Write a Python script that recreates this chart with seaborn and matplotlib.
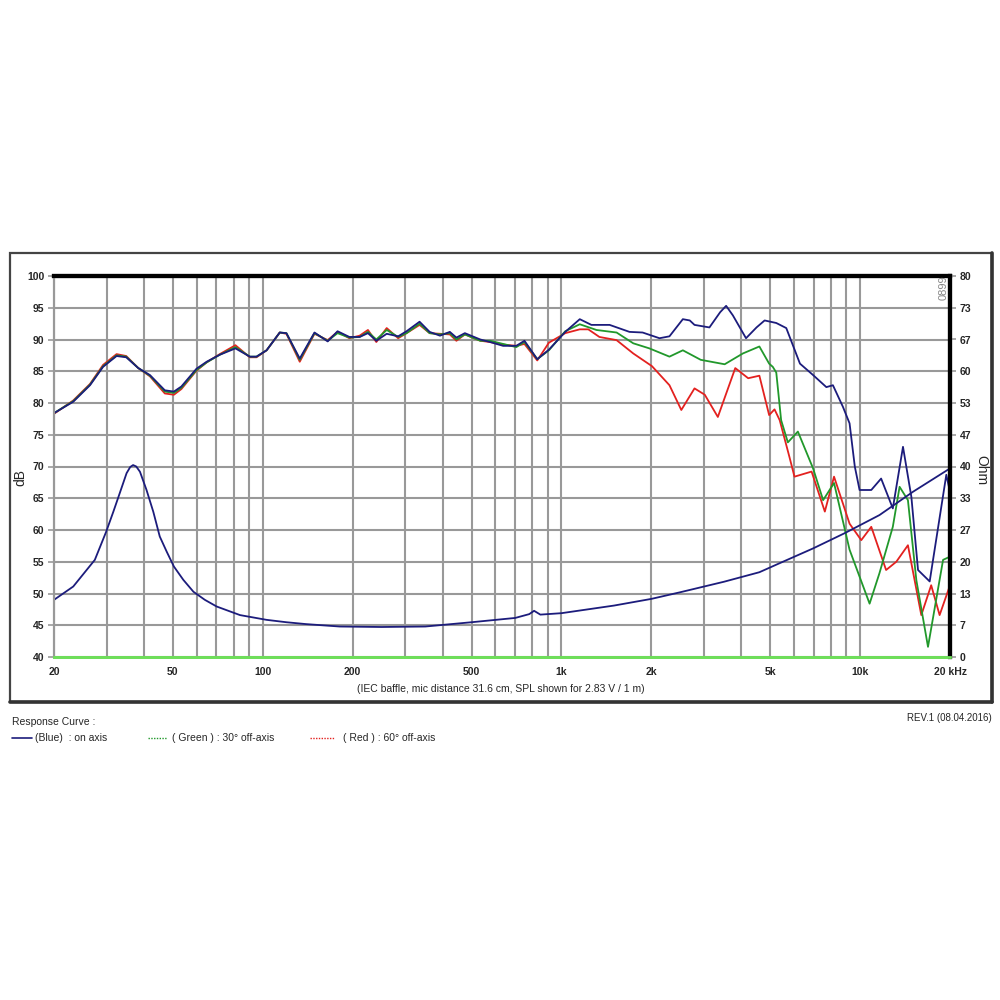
import matplotlib
matplotlib.use("Agg")
import matplotlib.pyplot as plt
import seaborn as sns
from matplotlib.lines import Line2D
from matplotlib.patches import Rectangle

# SPL, on axis (blue)
blue_f = [20, 23.2, 26.4, 29.2, 32.4, 34.9, 38.3, 41.9, 47, 50.4, 53.4, 60, 64.9, 71.8, 81, 90.5, 95.3,
          103, 114, 120, 133, 149, 165, 178, 195, 211, 225, 240, 260, 284, 303, 335, 362, 392, 423, 445,
          475, 535, 577, 638, 706, 752, 830, 908, 1030, 1152, 1260, 1450, 1690, 1870, 2130, 2300,
          2550, 2690, 2790, 3130, 3400, 3560, 3750, 4150, 4500, 4790, 5240, 5660, 6290, 6960, 7710, 8110,
          8760, 9220, 9600, 9960, 10900, 11760, 12870, 13920, 14850, 15630, 17100, 19440, 20000]
blue_db = [78.4, 80.2, 82.8, 85.7, 87.4, 87.2, 85.5, 84.4, 82.0, 81.8, 82.6, 85.4, 86.5, 87.6, 88.6, 87.3, 87.3,
           88.3, 91.1, 91.0, 87.0, 91.1, 89.7, 91.3, 90.4, 90.4, 91.0, 89.8, 90.9, 90.5, 91.3, 92.8, 91.2,
           90.6, 91.2, 90.3, 91.0, 90.0, 89.6, 89.0, 89.0, 89.8, 86.9, 88.4, 91.2, 93.2, 92.3, 92.3, 91.2,
           91.1, 90.2, 90.5, 93.2, 93.0, 92.3, 91.9, 94.3, 95.3, 93.8, 90.2, 91.9, 93.0, 92.6, 91.8,
           86.2, 84.4, 82.5, 82.8, 79.4, 76.8, 70.0, 66.3, 66.3, 68.1, 63.4, 73.1, 65.2, 53.7, 51.9, 68.7,
           66.0]

# SPL, 30 deg off axis (green)
green_f = [20, 23.2, 26.4, 29.2, 32.4, 34.9, 38.3, 41.9, 47, 50.4, 53.4, 60, 64.9, 71.8, 81, 90.5, 95.3,
           103, 114, 120, 133, 149, 165, 178, 195, 211, 225, 240, 260, 284, 303, 335, 362, 392, 423, 445,
           475, 535, 577, 638, 706, 752, 830, 908, 1030, 1152, 1310, 1530, 1740, 1970, 2300, 2550, 2927,
           3520, 4050, 4600, 4960, 5100, 5240, 5440, 5730, 6190, 6960, 7520, 8180, 9220, 10760, 11610,
           12870, 13560, 14460, 15430, 16880, 18960, 20000]
green_db = [78.4, 80.3, 82.9, 85.8, 87.5, 87.3, 85.5, 84.3, 81.8, 81.6, 82.4, 85.2, 86.4, 87.6, 88.8, 87.3, 87.3,
            88.3, 91.1, 91.0, 86.8, 91.0, 89.8, 91.0, 90.3, 90.4, 91.2, 90.0, 91.5, 90.4, 91.0, 92.5, 91.0,
            90.8, 91.0, 90.0, 90.8, 89.8, 89.8, 89.3, 88.8, 89.6, 86.9, 88.3, 91.3, 92.4, 91.5, 91.1, 89.4,
            88.6, 87.3, 88.3, 86.8, 86.1, 87.8, 88.9, 86.2, 85.7, 84.8, 77.3, 73.8, 75.5, 69.7, 64.7, 67.4,
            56.9, 48.4, 53.2, 60.5, 66.8, 64.7, 52.1, 41.6, 55.3, 55.8]

# SPL, 60 deg off axis (red)
red_f = [20, 23.2, 26.4, 29.2, 32.4, 34.9, 38.3, 41.9, 47, 50.4, 53.4, 60, 64.9, 71.8, 81, 90.5, 95.3,
         103, 114, 120, 133, 149, 165, 178, 195, 211, 225, 240, 260, 284, 303, 335, 362, 392, 423, 445,
         475, 535, 577, 638, 706, 752, 830, 908, 1030, 1152, 1230, 1340, 1530, 1740, 2010, 2300, 2520,
         2790, 3020, 3340, 3820, 4220, 4600, 4960, 5170, 5380, 5800, 6030, 6880, 7620, 8180, 9220,
         10090, 10900, 12220, 13220, 14460, 16030, 17300, 18460, 20000]
red_db = [78.3, 80.4, 83.0, 86.0, 87.7, 87.4, 85.5, 84.2, 81.5, 81.3, 82.2, 85.1, 86.4, 87.7, 89.1, 87.2, 87.2,
          88.3, 91.1, 90.9, 86.5, 90.9, 89.9, 91.2, 90.2, 90.6, 91.5, 89.6, 91.8, 90.2, 91.0, 92.3, 91.0,
          90.9, 90.8, 89.8, 90.8, 89.8, 89.6, 89.2, 89.0, 89.3, 86.7, 89.5, 91.0, 91.6, 91.6, 90.4, 89.9,
          87.8, 85.8, 82.8, 78.9, 82.3, 81.3, 77.8, 85.5, 83.9, 84.3, 78.1, 79.0, 77.3, 71.5, 68.4, 69.2,
          62.9, 68.4, 61.0, 58.4, 60.5, 53.7, 55.0, 57.6, 46.6, 51.3, 46.6, 51.3]

# impedance (Ohm)
imp_f = [20, 23.2, 27.4, 29.9, 31.6, 33.2, 35.0, 36.0, 36.8, 37.7, 38.8, 40.8, 43.0, 45.2, 47.7, 50.4,
         54.2, 58.6, 64, 70.1, 83.9, 103, 120, 140, 181, 250, 350, 500, 700, 780, 810, 850, 1000, 1500,
         2000, 2500, 3500, 4600, 5380, 6960, 8880, 11610, 15040, 20000]
imp_ohm = [12.0, 14.8, 20.4, 26.3, 30.5, 34.4, 38.6, 39.9, 40.3, 40.0, 38.9, 35.1, 30.5, 25.3, 22.1, 19.0,
           16.2, 13.7, 12.0, 10.6, 8.8, 7.8, 7.3, 6.9, 6.4, 6.3, 6.4, 7.3, 8.2, 9.0, 9.7, 8.9, 9.2, 10.8,
           12.2, 13.6, 15.8, 17.8, 19.7, 22.8, 26.0, 29.8, 34.7, 39.6]

x_major = [20, 50, 100, 200, 500, 1000, 2000, 5000, 10000, 20000]
x_labels = ["20", "50", "100", "200", "500", "1k", "2k", "5k", "10k", "20 kHz"]
x_minor = [30, 40, 60, 70, 80, 90, 300, 400, 600, 700, 800, 900,
           3000, 4000, 6000, 7000, 8000, 9000]
db_ticks = [40, 45, 50, 55, 60, 65, 70, 75, 80, 85, 90, 95, 100]
ohm_ticks = [0, 80/12, 2*80/12, 3*80/12, 4*80/12, 5*80/12, 6*80/12, 7*80/12, 8*80/12,
             9*80/12, 10*80/12, 11*80/12, 80]
ohm_labels = ["0", "7", "13", "20", "27", "33", "40", "47", "53", "60", "67", "73", "80"]

sns.set_style("white")
plt.rcParams['font.family'] = ['Liberation Sans', 'DejaVu Sans']

BLUE = "#1c1c7c"
GREEN = "#21982b"
RED = "#e3211f"

fig = plt.figure(figsize=(10, 10), dpi=100)

# outer frame
fig.add_artist(Rectangle((0.010, 0.298), 0.982, 0.449, transform=fig.transFigure,
                         fill=False, edgecolor="#444444", linewidth=1.6))
fig.add_artist(Line2D([0.992, 0.992], [0.298, 0.747], transform=fig.transFigure, color="#333333", lw=2.6))
fig.add_artist(Line2D([0.010, 0.992], [0.298, 0.298], transform=fig.transFigure, color="#333333", lw=2.6))

ax = fig.add_axes([0.054, 0.343, 0.896, 0.381])
ax2 = ax.twinx()

ax.set_xscale("log")
ax.set_xlim(20, 20000)
ax.set_ylim(40, 100)
ax2.set_ylim(0, 80)

sns.lineplot(x=red_f, y=red_db, ax=ax, color=RED, lw=1.3, zorder=3)
sns.lineplot(x=green_f, y=green_db, ax=ax, color=GREEN, lw=1.3, zorder=4)
sns.lineplot(x=blue_f, y=blue_db, ax=ax, color=BLUE, lw=1.3, zorder=5)
sns.lineplot(x=imp_f, y=imp_ohm, ax=ax2, color=BLUE, lw=1.3)

ax.set_xticks(x_major)
ax.set_xticklabels(x_labels, fontsize=7.5, fontweight="bold")
ax.set_xticks(x_minor, minor=True)
ax.set_xticklabels([], minor=True)
ax.set_yticks(db_ticks)
ax.set_yticklabels([str(t) for t in db_ticks], fontsize=7.5, fontweight="bold")
ax.tick_params(axis="x", which="both", length=0, pad=7)
ax.tick_params(axis="y", length=4, color="#999999", width=1.2, pad=3)

ax.grid(True, which="both", axis="x", color="#999999", lw=1.5)
ax.grid(True, which="major", axis="y", color="#999999", lw=1.5)
ax.set_axisbelow(True)

ax2.set_yticks(ohm_ticks)
ax2.set_yticklabels(ohm_labels, fontsize=7.5, fontweight="bold")
ax2.tick_params(axis="y", length=4, color="#999999", width=1.2, pad=3)
ax2.grid(False)

ax.set_xlabel("")
ax.set_ylabel("")
ax2.set_ylabel("")

for a in (ax, ax2):
    a.spines["top"].set_color("black")
    a.spines["top"].set_linewidth(3)
    a.spines["right"].set_color("black")
    a.spines["right"].set_linewidth(3)
    a.spines["left"].set_color("#999999")
    a.spines["left"].set_linewidth(1.5)
    a.spines["bottom"].set_color("#6ede5a")
    a.spines["bottom"].set_linewidth(2)

fig.text(0.02, 0.522, "dB", rotation=90, fontsize=10, ha="center", va="center")
fig.text(0.981, 0.530, "Ohm", rotation=270, fontsize=10, ha="center", va="center")
fig.text(0.944, 0.712, "0899", rotation=90, fontsize=8, color="#888888", ha="center", va="center")
fig.text(0.501, 0.311, "(IEC baffle, mic distance 31.6 cm, SPL shown for 2.83 V / 1 m)",
         fontsize=7.5, ha="center", va="center")

# legend
fig.text(0.012, 0.278, "Response Curve :", fontsize=7.5, ha="left", va="center")
fig.add_artist(Line2D([0.012, 0.032], [0.262, 0.262], transform=fig.transFigure, color=BLUE, lw=1.2))
fig.text(0.035, 0.262, "(Blue)  : on axis", fontsize=7.5, ha="left", va="center")
fig.add_artist(Line2D([0.148, 0.167], [0.262, 0.262], transform=fig.transFigure, color=GREEN, lw=1,
                      linestyle=(0, (1, 1))))
fig.text(0.172, 0.262, "( Green ) : 30° off-axis", fontsize=7.5, ha="left", va="center")
fig.add_artist(Line2D([0.310, 0.335], [0.262, 0.262], transform=fig.transFigure, color=RED, lw=1,
                      linestyle=(0, (1, 1))))
fig.text(0.343, 0.262, "( Red ) : 60° off-axis", fontsize=7.5, ha="left", va="center")
fig.text(0.992, 0.282, "REV.1 (08.04.2016)", fontsize=7, ha="right", va="center")

fig.savefig("out.png", dpi=100)
